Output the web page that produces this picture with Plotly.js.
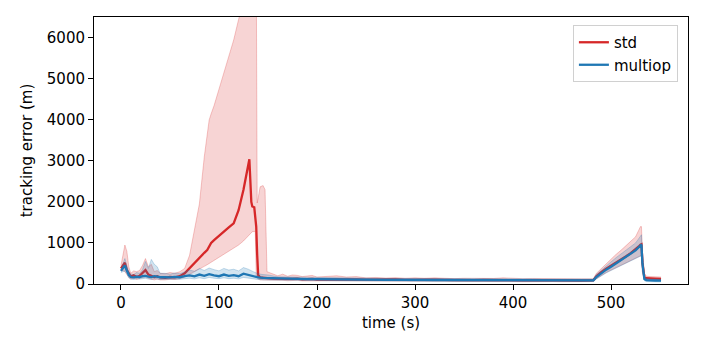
<!DOCTYPE html>
<html>
<head>
<meta charset="utf-8">
<script src="https://cdn.plot.ly/plotly-3.0.1.min.js"></script>
<style>
html,body{margin:0;padding:0;background:#fff;}
#chart{width:706px;height:353px;}
</style>
</head>
<body>
<div id="chart"></div>
<script>
// ---- std series ----
const tStd = [
  0,2,4,6,8,10,13,16,19,22,25,28,31,34,37,40,
  45,50,55,60,65,70,75,80,85,88,90,92,95,
  100,105,110,115,120,125,128,131,133,134,136,137,138,139,140,142,145,147,149,
  152,156,160,165,170,175,180,185,190,195,200,210,220,230,240,250,260,270,280,290,300,310,320,330,340,350,360,370,380,390,400,410,420,430,440,450,460,470,480,
  482,485,490,495,500,505,510,515,520,525,528,530,531,532,534,536,540,545,551
];
const stdMean = [
  380,450,520,340,250,180,210,170,200,260,340,230,200,170,190,160,
  150,170,160,190,260,390,520,640,760,830,920,1000,1070,
  1180,1280,1380,1480,1800,2300,2650,3040,2000,1890,1870,1600,1400,700,220,160,150,140,140,
  135,130,125,135,120,125,130,115,120,125,110,115,120,110,115,105,110,105,110,100,105,100,105,100,95,100,95,100,95,100,95,90,95,90,95,90,90,85,90,
  95,185,290,370,440,520,590,670,750,840,910,960,970,520,160,140,130,130,125
];
const stdLo = [
  320,330,300,220,160,120,140,110,130,150,180,140,120,100,120,100,
  100,115,110,130,170,230,290,360,430,470,500,530,570,
  650,720,800,880,950,1050,1120,1200,1250,1275,1280,1290,200,150,120,100,100,90,95,
  95,90,85,90,80,85,90,75,80,85,75,80,80,75,80,70,75,70,75,65,70,65,70,65,60,65,60,65,60,65,60,55,60,55,60,55,55,50,55,
  60,130,210,280,340,400,450,510,570,630,660,690,700,300,110,95,90,90,85
];
const stdHi = [
  450,700,950,800,420,260,320,300,330,450,620,420,480,300,330,260,
  250,280,260,300,380,700,1350,1950,3100,3650,4000,4150,4350,
  4750,5150,5550,5950,6450,6900,7300,7600,7800,7900,8000,8000,8000,1975,2100,2370,2400,2300,300,
  270,230,200,240,190,220,210,180,200,210,170,190,200,170,180,150,160,145,155,140,150,140,150,140,130,140,135,140,135,150,135,130,135,130,135,130,130,125,125,
  130,260,380,500,620,720,820,930,1030,1150,1300,1400,1400,800,260,190,180,180,170
];

// ---- multiop series ----
const tMulti = [
  0,2,4,6,8,10,13,16,19,22,25,28,31,34,37,40,
  45,50,55,60,65,70,75,80,85,90,95,100,105,110,115,120,125,130,135,140,145,150,
  160,170,180,190,200,210,220,230,240,250,260,270,280,290,300,310,320,330,340,350,360,370,380,390,400,410,420,430,440,450,460,470,480,
  482,485,490,495,500,505,510,515,520,525,528,530,531,532,534,536,540,545,551
];
const multiMean = [
  320,380,450,330,220,170,160,180,170,190,200,180,170,190,175,165,
  170,160,175,165,190,210,185,230,200,240,210,190,230,200,215,190,250,220,190,160,150,145,
  135,130,125,120,120,115,115,110,110,105,105,100,100,100,95,100,95,95,100,95,95,90,95,100,90,90,90,85,90,85,85,85,85,
  90,170,270,350,420,500,570,650,730,820,890,950,960,500,120,95,85,85,80
];
const multiLo = [
  280,300,320,250,150,120,110,130,120,130,140,120,110,130,120,110,
  115,110,120,115,130,140,125,150,130,160,140,130,150,130,140,125,160,140,125,110,100,100,
  100,95,90,85,85,80,80,75,75,70,70,70,65,65,65,65,60,60,65,60,60,55,60,65,55,55,55,50,55,50,50,50,50,
  60,120,200,270,330,390,440,500,560,620,650,680,690,300,80,60,55,55,50
];
const multiHi = [
  360,480,620,450,300,240,230,280,260,350,550,380,600,480,420,260,
  260,240,270,250,300,340,310,380,330,390,350,320,380,340,360,320,400,360,300,250,230,220,
  175,170,165,160,155,150,150,145,145,140,140,135,135,135,130,135,130,130,135,130,130,125,130,140,125,125,125,120,125,120,120,120,120,
  120,230,340,440,540,640,730,820,910,1000,1100,1180,1200,700,180,140,120,120,115
];

const seriesNames = ['std', 'multiop'];
const xTickVals = [0,100,200,300,400,500];
const yTickVals = [0,1000,2000,3000,4000,5000,6000];

const RED = '#d62728', BLUE = '#1f77b4';

function band(t, lo, hi, rgb) {
  return [
    {x: t, y: lo, type: 'scatter', mode: 'lines', showlegend: false, hoverinfo: 'skip',
     line: {color: 'rgba(' + rgb + ',0.25)', width: 1}},
    {x: t, y: hi, type: 'scatter', mode: 'lines', showlegend: false, hoverinfo: 'skip',
     fill: 'tonexty', fillcolor: 'rgba(' + rgb + ',0.2)',
     line: {color: 'rgba(' + rgb + ',0.25)', width: 1}}
  ];
}

const data = [
  ...band(tStd, stdLo, stdHi, '214,39,40'),
  {x: tStd, y: stdMean, type: 'scatter', mode: 'lines', name: seriesNames[0],
   line: {color: RED, width: 2.3}},
  ...band(tMulti, multiLo, multiHi, '31,119,180'),
  {x: tMulti, y: multiMean, type: 'scatter', mode: 'lines', name: seriesNames[1],
   line: {color: BLUE, width: 2.3}}
];

const font = {family: 'DejaVu Sans, sans-serif', size: 15, color: '#000'};

const layout = {
  width: 706, height: 353,
  margin: {l: 94, r: 18, t: 17, b: 69},
  paper_bgcolor: '#fff', plot_bgcolor: '#fff',
  font: font,
  showlegend: true,
  legend: {
    x: 0.983, y: 0.97, xanchor: 'right', yanchor: 'top',
    traceorder: 'normal',
    bordercolor: '#d0d0d0', borderwidth: 1, bgcolor: 'rgba(255,255,255,0.8)',
    font: font, tracegroupgap: 0
  },
  xaxis: {
    range: [-27.5, 578.5], tickvals: xTickVals, ticktext: xTickVals.map(String),
    showgrid: false, zeroline: false, showline: true, mirror: true,
    linecolor: '#000', linewidth: 1, ticks: 'outside', ticklen: 5, tickcolor: '#000',
    tickfont: font,
    title: {text: 'time (s)', font: font, standoff: 6}
  },
  yaxis: {
    range: [0, 6510], tickvals: yTickVals, ticktext: yTickVals.map(String),
    showgrid: false, zeroline: false, showline: true, mirror: true,
    linecolor: '#000', linewidth: 1, ticks: 'outside', ticklen: 5, tickcolor: '#000',
    tickfont: font,
    title: {text: 'tracking error (m)', font: font, standoff: 10}
  }
};

Plotly.newPlot('chart', data, layout, {staticPlot: true, displayModeBar: false});
</script>
</body>
</html>
